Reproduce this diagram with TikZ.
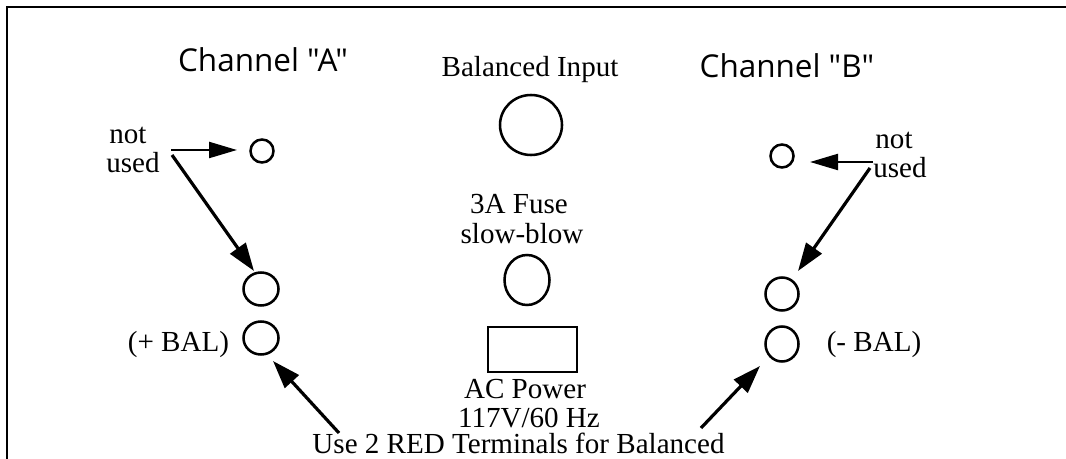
\documentclass[tikz,border=0pt]{standalone}
\usepackage{fontspec}
\setmainfont{Liberation Serif}
\newfontfamily\chanfont{Open Sans}
\usetikzlibrary{arrows.meta}
\tikzset{
  lab/.style={anchor=base,inner sep=0pt,font=\fontsize{21.8}{25}\selectfont},
  chan/.style={anchor=base,inner sep=0pt,font=\chanfont\fontsize{23.6}{28}\selectfont},
  hole/.style={draw=black,line width=1.9pt,fill=none},
  panel/.style={draw=black,line width=2.2pt},
  pointer/.style={draw=black,line width=2.4pt,-{Triangle[length=21pt,width=14pt]}},
  thinpointer/.style={draw=black,line width=1.7pt,-{Triangle[length=21pt,width=12pt]}}
}
\begin{document}
\begin{tikzpicture}[x=0.75pt,y=-0.75pt]
\useasboundingbox (0,0) rectangle (1066,459);
\draw[panel] (7,459) -- (7,7) -- (1066,7);
\node[chan] (chA) at (263,72) {Channel "A"};
\node[chan] (chB) at (787,78) {Channel "B"};
\node[lab] (bal) at (530,77) {Balanced Input};
\node[lab] (fuse1) at (519,214) {3A Fuse};
\node[lab] (fuse2) at (522,244) {slow-blow};
\node[lab] (ac1) at (525,398) {AC Power};
\node[lab] (ac2) at (529,427) {117V/60 Hz};
\node[lab] (use) at (518.5,453) {Use 2 RED Terminals for Balanced};
\node[lab] (nota) at (128,144) {not};
\node[lab] (useda) at (133,173) {used};
\node[lab] (pbal) at (178.5,351) {(+ BAL)};
\node[lab] (notb) at (894,149) {not};
\node[lab] (usedb) at (900,178) {used};
\node[lab] (mbal) at (874,351) {(- BAL)};
\draw[hole] (531,125) ellipse [x radius=31,y radius=30];
\draw[hole] (527,280) ellipse [x radius=22.5,y radius=25];
\draw[hole] (488,327) rectangle (577,372);
\draw[hole] (262,151) circle [radius=11.5];
\draw[hole] (261,289) ellipse [x radius=17.5,y radius=16.5];
\draw[hole] (261,338) ellipse [x radius=17.5,y radius=16.5];
\draw[hole] (782,156) circle [radius=11.5];
\draw[hole] (782,294) ellipse [x radius=16.5,y radius=16.5];
\draw[hole] (782,344) ellipse [x radius=16.5,y radius=17.5];
\coordinate (a0) at (171,150); \coordinate (a1) at (237,150);
\coordinate (a2) at (172,155); \coordinate (a3) at (254,271);
\coordinate (a4) at (339,433); \coordinate (a5) at (273,361);
\coordinate (b0) at (873,162); \coordinate (b1) at (810,162);
\coordinate (b2) at (870,168); \coordinate (b3) at (798,271);
\coordinate (b4) at (701,428); \coordinate (b5) at (760,366);
\draw[thinpointer] (a0) -- (a1);
\draw[pointer] (a2) -- (a3);
\draw[pointer] (a4) -- (a5);
\draw[thinpointer] (b0) -- (b1);
\draw[pointer] (b2) -- (b3);
\draw[pointer] (b4) -- (b5);
\end{tikzpicture}
\end{document}
